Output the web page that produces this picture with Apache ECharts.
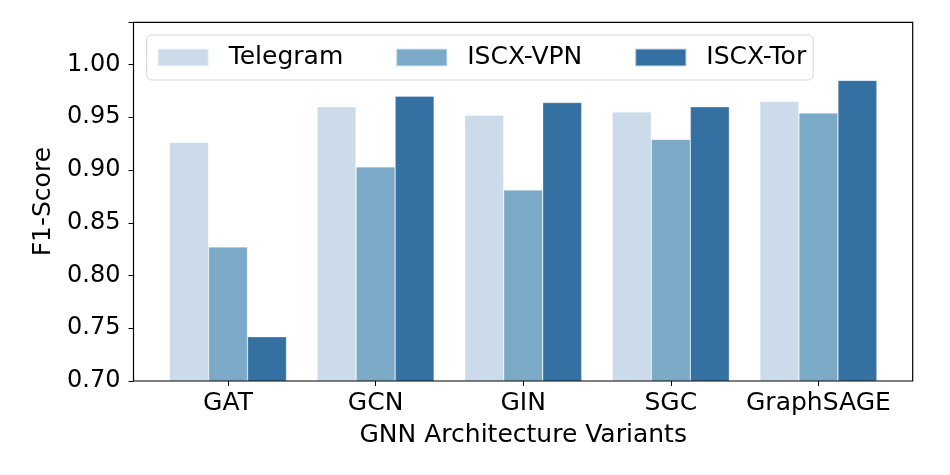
<!DOCTYPE html>
<html>
<head>
<meta charset="utf-8">
<script src="https://cdn.jsdelivr.net/npm/echarts@6/dist/echarts.min.js"></script>
<style>html,body{margin:0;padding:0;background:#fff;}#c{width:950px;height:475px;}</style>
</head>
<body>
<div id="c"></div>
<script>
const categories = ['GAT', 'GCN', 'GIN', 'SGC', 'GraphSAGE'];
const seriesNames = ['Telegram', 'ISCX-VPN', 'ISCX-Tor'];
const telegram = [0.926, 0.960, 0.952, 0.955, 0.965];
const iscxVpn = [0.827, 0.903, 0.881, 0.929, 0.954];
const iscxTor = [0.742, 0.970, 0.964, 0.960, 0.985];
const yTicks = [0.70, 0.75, 0.80, 0.85, 0.90, 0.95, 1.00];
const colors = ['#cbdbea', '#7aaac8', '#3470a2'];

const FONT = 'DejaVu Sans';
const chart = echarts.init(document.getElementById('c'), null, {renderer: 'canvas'});
const values = [telegram, iscxVpn, iscxTor];

chart.setOption({
  animation: false,
  backgroundColor: '#ffffff',
  textStyle: {fontFamily: FONT, color: '#000'},
  grid: {left: 154.2, right: 57.8, top: 22.3, bottom: 94, containLabel: false},
  legend: {
    left: 146.7, top: 35,
    data: seriesNames,
    itemWidth: 51, itemHeight: 17.6, itemGap: 52,
    padding: [10, 7, 10, 10],
    borderColor: '#d6d6d6', borderWidth: 1, borderRadius: 5,
    backgroundColor: 'rgba(255,255,255,0.8)',
    icon: 'rect',
    textStyle: {fontFamily: FONT, fontSize: 25, color: '#000', lineHeight: 24, padding: [0, 0, 0, 15]}
  },
  xAxis: {
    type: 'category',
    data: categories,
    name: 'GNN Architecture Variants',
    nameLocation: 'middle',
    nameGap: 42,
    nameTextStyle: {fontFamily: FONT, fontSize: 25, color: '#000'},
    axisLine: {show: false},
    axisTick: {show: true, alignWithLabel: true, length: 5, lineStyle: {color: '#000', width: 1}},
    axisLabel: {fontFamily: FONT, fontSize: 25, color: '#000', margin: 10, interval: 0},
    splitLine: {show: false}
  },
  yAxis: {
    type: 'value',
    min: 0.70, max: 1.04, interval: 0.05,
    offset: 20.7,
    name: 'F1-Score',
    nameLocation: 'middle',
    nameGap: 76,
    nameRotate: 90,
    nameTextStyle: {fontFamily: FONT, fontSize: 25, color: '#000'},
    axisLine: {show: false},
    axisTick: {show: true, length: 5, lineStyle: {color: '#000', width: 1}},
    axisLabel: {
      fontFamily: FONT, fontSize: 24, color: '#000', margin: 13,
      formatter: function (v) {
        const hit = yTicks.find(t => Math.abs(t - v) < 1e-6);
        return hit === undefined ? '' : hit.toFixed(2);
      }
    },
    splitLine: {show: false}
  },
  graphic: [{
    type: 'rect',
    shape: {x: 133.5, y: 22.3, width: 779.2, height: 358.7},
    style: {fill: 'none', stroke: '#000', lineWidth: 1.2},
    z: 100, silent: true
  }],
  series: seriesNames.map((n, i) => ({
    name: n,
    type: 'bar',
    data: values[i],
    barGap: '0%',
    barCategoryGap: '20.7%',
    itemStyle: {color: colors[i], borderColor: 'rgba(255,255,255,0.5)', borderWidth: 0.6}
  }))
});
</script>
</body>
</html>
